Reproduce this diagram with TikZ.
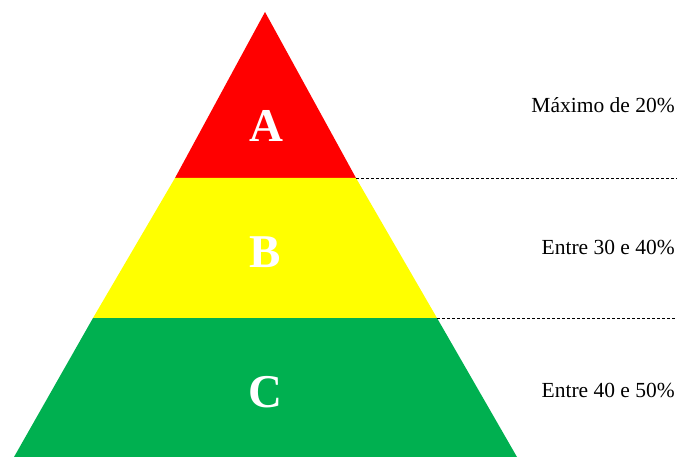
\documentclass[tikz,border=0pt]{standalone}
\usepackage{fontspec}
\setmainfont{Liberation Serif}
\definecolor{pyrred}{HTML}{FF0000}
\definecolor{pyryellow}{HTML}{FFFF00}
\definecolor{pyrgreen}{HTML}{00B050}
\begin{document}
\begin{tikzpicture}[x=1pt,y=-1pt,
  letter/.style={text=white,font=\fontsize{47}{47}\selectfont\bfseries},
  lbl/.style={anchor=east,font=\fontsize{21.5}{22}\selectfont,inner sep=0pt},
  guide/.style={black,line width=0.9pt,dash pattern=on 3pt off 2pt}]
\useasboundingbox (0,0) rectangle (677,457);
\coordinate (apex) at (265,12);
\coordinate (l1) at (175,178); \coordinate (r1) at (356,178);
\coordinate (l2) at (93,318); \coordinate (r2) at (437,318);
\coordinate (l3) at (14,457); \coordinate (r3) at (517,457);
\coordinate (e1) at (677,178); \coordinate (e2) at (677,318);
\fill[pyrred] (apex) -- (r1) -- (l1) -- cycle;
\fill[pyryellow] (l1) -- (r1) -- (r2) -- (l2) -- cycle;
\fill[pyrgreen] (l2) -- (r2) -- (r3) -- (l3) -- cycle;
\draw[guide] (r1) -- (e1);
\draw[guide] (r2) -- (e2);
\node[letter] (A) at (266,126) {A};
\node[letter] (B) at (265,252) {B};
\node[letter] (C) at (265,392) {C};
\node[lbl] (la) at (675,105) {Máximo de 20\%};
\node[lbl] (lb) at (675,247) {Entre 30 e 40\%};
\node[lbl] (lc) at (675,390) {Entre 40 e 50\%};
\end{tikzpicture}
\end{document}
